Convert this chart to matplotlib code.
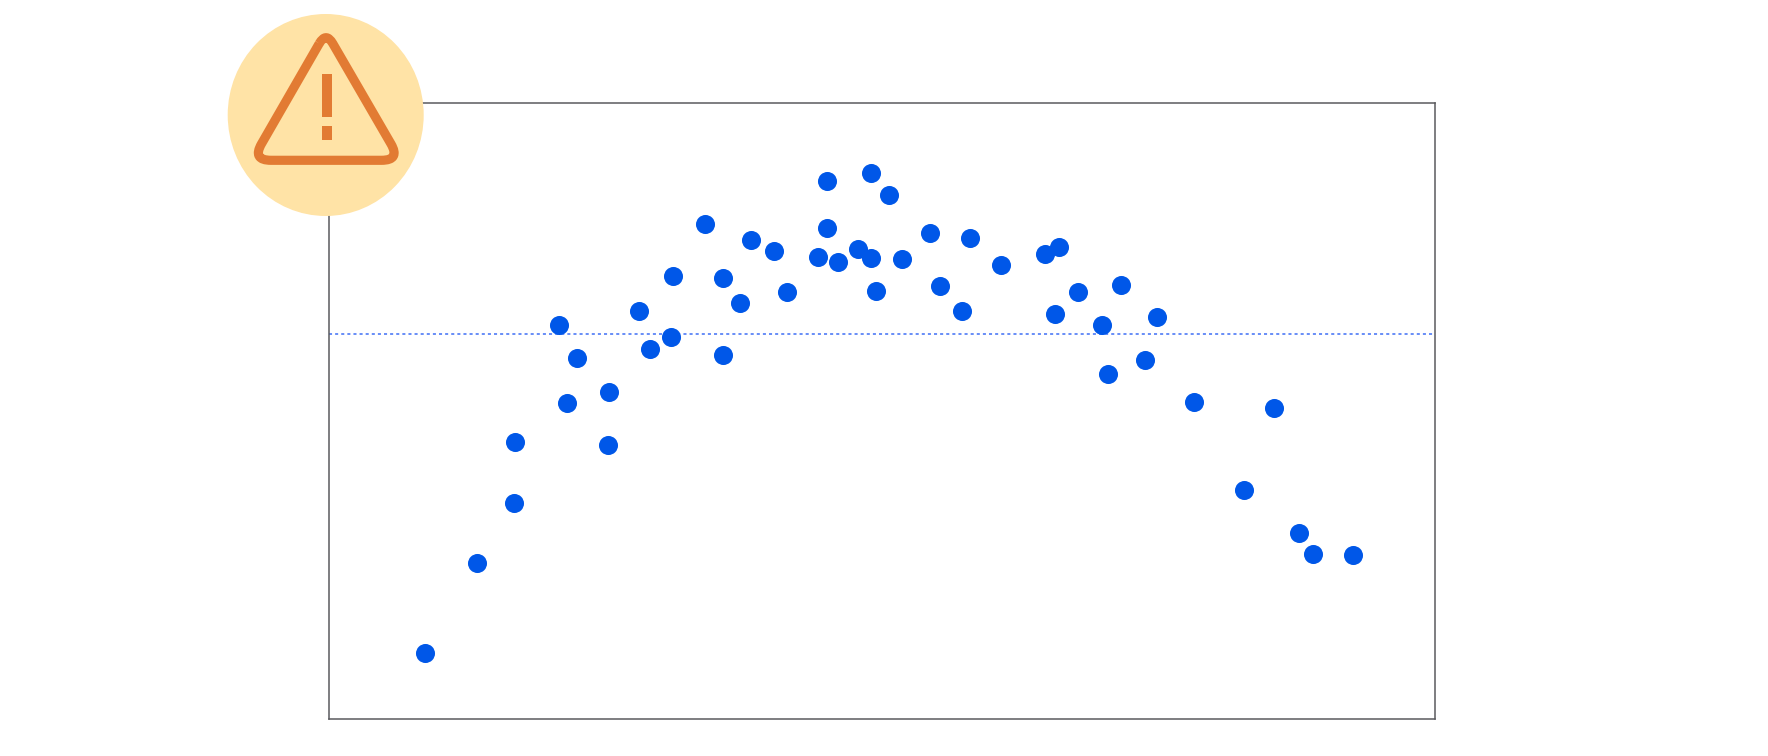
"""Scatter with a dotted threshold line and a warning badge over the corner."""

import matplotlib

matplotlib.use("Agg")
import matplotlib.pyplot as plt
from matplotlib.patches import Ellipse, PathPatch, Rectangle
from matplotlib.path import Path

W, H = 1768, 756
BLUE, LINE_C, SPINE_C = "#0057e8", "#3f6ff5", "#5a5a5e"
BADGE_C, ICON_C = "#ffe3a6", "#e27b33"

x = [8.7, 13.4, 16.7, 16.8, 20.8, 21.5, 22.4, 25.2, 25.3, 28.0,
     29.0, 30.9, 31.1, 34.0, 35.6, 35.6, 37.2, 38.2, 40.2, 41.4,
     44.2, 45.0, 45.0, 46.0, 47.8, 49.0, 49.0, 49.5, 50.6, 51.8,
     54.3, 55.2, 57.2, 58.0, 60.8, 64.7, 65.6, 66.0, 67.7, 69.9,
     70.4, 71.6, 73.8, 74.9, 78.2, 82.7, 85.4, 87.7, 89.0, 92.6]
y = [10.6, 25.3, 35.0, 44.9, 64.0, 51.3, 58.6, 44.5, 53.0, 66.2,
     60.0, 62.0, 71.9, 80.3, 59.0, 71.5, 67.5, 77.7, 75.9, 69.3,
     75.0, 87.3, 79.7, 74.2, 76.3, 88.7, 74.8, 69.5, 85.1, 74.6,
     78.8, 70.2, 66.2, 78.1, 73.7, 75.5, 65.8, 76.6, 69.3, 64.0,
     55.9, 70.4, 58.3, 65.3, 51.4, 37.1, 50.4, 30.1, 26.7, 26.6]
threshold = 62.5


def toward(a, b, cut):
    d = ((b[0] - a[0]) ** 2 + (b[1] - a[1]) ** 2) ** 0.5
    return (a[0] + (b[0] - a[0]) * cut / d, a[1] + (b[1] - a[1]) * cut / d)


def rounded_triangle(apex, left, right, top_cut, low_cut):
    verts = [toward(apex, left, top_cut), toward(left, apex, low_cut), left,
             toward(left, right, low_cut), toward(right, left, low_cut), right,
             toward(right, apex, low_cut), toward(apex, right, top_cut), apex,
             toward(apex, left, top_cut)]
    codes = [Path.MOVETO, Path.LINETO, Path.CURVE3, Path.CURVE3,
             Path.LINETO, Path.CURVE3, Path.CURVE3,
             Path.LINETO, Path.CURVE3, Path.CURVE3]
    return Path(verts, codes)


fig = plt.figure(figsize=(W / 100, H / 100), dpi=100, facecolor="white")
ax = fig.add_axes([329 / W, 1 - 718.5 / H, (1435 - 329) / W, (718.5 - 103) / H])
ax.scatter(x, y, s=188, color=BLUE, linewidths=0, zorder=3)
ax.axhline(threshold, color=LINE_C, lw=1.1, ls=(0, (2.0, 2.0)), zorder=2)
ax.set_xlim(0, 100)
ax.set_ylim(0, 100)
ax.set_xticks([])
ax.set_yticks([])
for spine in ax.spines.values():
    spine.set_color(SPINE_C)
    spine.set_linewidth(1.1)

# badge sits on top of the axes corner, laid out in figure pixels
icon = fig.add_axes([0, 0, 1, 1], facecolor="none")
icon.set_xlim(0, W)
icon.set_ylim(H, 0)
icon.axis("off")
icon.add_patch(Ellipse((325.7, 115), 196, 202, color=BADGE_C, lw=0))
icon.add_patch(PathPatch(rounded_triangle((326, 31.8), (252, 160.3), (400.5, 160.3), 13.5, 19),
                         fill=False, edgecolor=ICON_C, lw=6.6, joinstyle="round"))
icon.add_patch(Rectangle((322, 74), 9.7, 43, color=ICON_C, lw=0))
icon.add_patch(Rectangle((322, 126), 9.7, 13.5, color=ICON_C, lw=0))

fig.savefig("out.png", dpi=100)
